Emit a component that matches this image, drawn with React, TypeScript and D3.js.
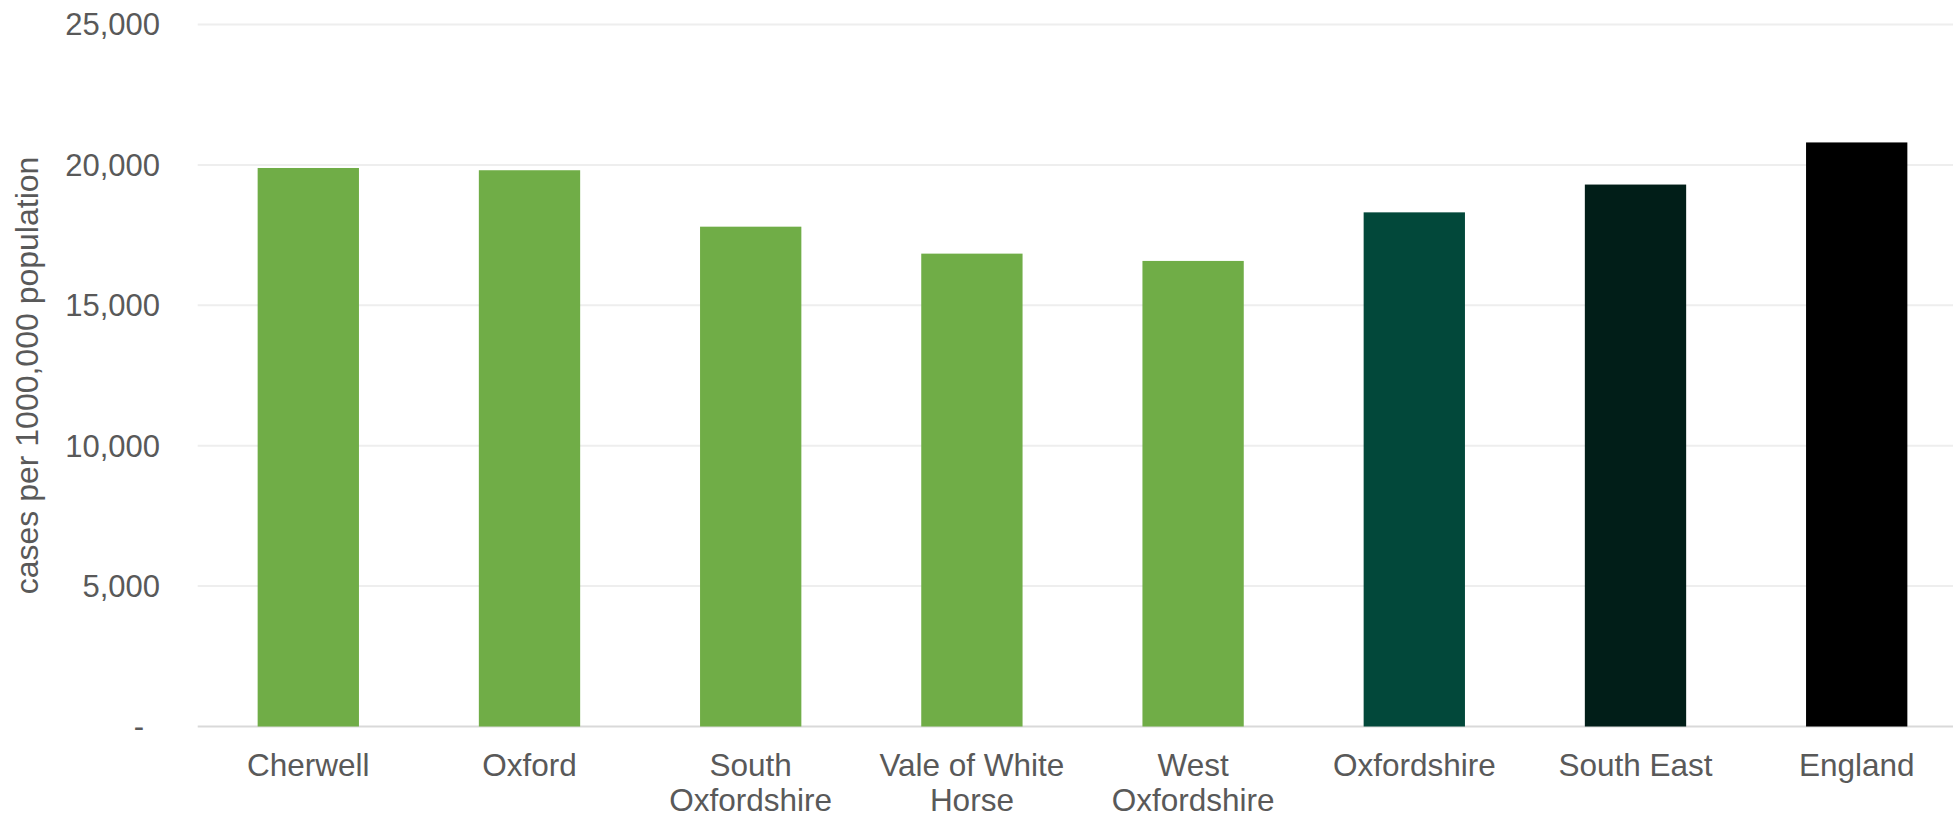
import React from "react";
import * as d3 from "d3";

const categories: string[][] = [
  ["Cherwell"],
  ["Oxford"],
  ["South", "Oxfordshire"],
  ["Vale of White", "Horse"],
  ["West", "Oxfordshire"],
  ["Oxfordshire"],
  ["South East"],
  ["England"],
];
const values: number[] = [19890, 19810, 17800, 16840, 16580, 18310, 19300, 20800];
const barColors: string[] = [
  "#70AD47", "#70AD47", "#70AD47", "#70AD47", "#70AD47",
  "#02483A", "#011E18", "#000000",
];
const yTicks: number[] = [0, 5000, 10000, 15000, 20000, 25000];
const yTitle = "cases per 1000,000 population";

const W = 1959;
const H = 819;
const left = 197.7;
const step = 221.2;
const right = left + step * categories.length;
const top = 24.5;
const bottom = 726.5;
const gridEnd = 1953;

export default function App() {
  const keys = categories.map((c) => c.join(" "));
  const x = d3
    .scaleBand<string>()
    .domain(keys)
    .range([left, right])
    .paddingInner(0.542)
    .paddingOuter(0.271);
  const y = d3.scaleLinear().domain([0, 25000]).range([bottom, top]);
  const fmt = d3.format(",");
  const font = "'Liberation Sans', Arial, sans-serif";

  return (
    <svg
      width={W}
      height={H}
      style={{ position: "absolute", left: 0, top: 0, background: "#fff" }}
      fontFamily={font}
    >
      {yTicks.map((t) => (
        <line
          key={"g" + t}
          x1={left}
          x2={gridEnd}
          y1={y(t)}
          y2={y(t)}
          stroke={t === 0 ? "#D9D9D9" : "#EEEEEE"}
          strokeWidth={2}
        />
      ))}
      {yTicks.map((t) => (
        <text
          key={"t" + t}
          x={t === 0 ? 144 : 160}
          y={y(t)}
          dy="0.35em"
          textAnchor="end"
          fontSize={31}
          fill="#595959"
        >
          {t === 0 ? "-" : fmt(t)}
        </text>
      ))}
      <text
        transform={`translate(38, ${(top + bottom) / 2}) rotate(-90)`}
        textAnchor="middle"
        fontSize={32}
        fill="#595959"
      >
        {yTitle}
      </text>
      {values.map((v, i) => (
        <rect
          key={"b" + i}
          x={x(keys[i])!}
          y={y(v)}
          width={x.bandwidth()}
          height={y(0) - y(v)}
          fill={barColors[i]}
        />
      ))}
      {categories.map((lines, i) => (
        <text
          key={"c" + i}
          x={x(keys[i])! + x.bandwidth() / 2}
          y={776}
          textAnchor="middle"
          fontSize={31.5}
          fill="#595959"
        >
          {lines.map((l, j) => (
            <tspan key={j} x={x(keys[i])! + x.bandwidth() / 2} dy={j === 0 ? 0 : 35}>
              {l}
            </tspan>
          ))}
        </text>
      ))}
    </svg>
  );
}
